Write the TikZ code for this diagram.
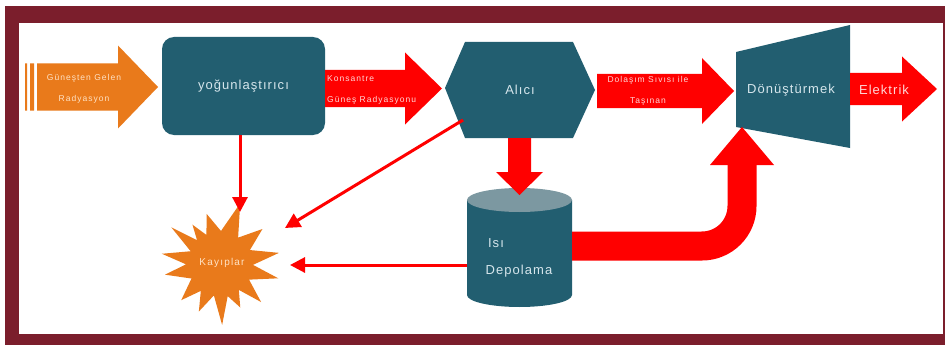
\documentclass[tikz,border=0pt]{standalone}
\usepackage{fontspec}
\setmainfont{Liberation Sans}
\newfontfamily\biglbl[LetterSpace=8]{Liberation Sans}
\newfontfamily\smllbl[LetterSpace=12]{Liberation Sans}
\usetikzlibrary{calc,arrows.meta}
\definecolor{framered}{HTML}{7B1E2C}
\definecolor{myteal}{HTML}{225E70}
\definecolor{mytealtop}{HTML}{7C98A1}
\definecolor{myorange}{HTML}{E97A1B}
\definecolor{myred}{HTML}{FF0000}
\definecolor{lighttxt}{HTML}{D6E6EC}
\definecolor{pinktxt}{HTML}{FFD6D6}
\definecolor{beigetxt}{HTML}{FFE2C4}
% colour, x start, x head base, x tip, y centre, shaft half, head half
\newcommand{\blockarr}[7]{%
  \fill[#1] (#2,#5-#6) -- (#3,#5-#6) -- (#3,#5-#7) -- (#4,#5) -- (#3,#5+#7) -- (#3,#5+#6) -- (#2,#5+#6) -- cycle;}
\begin{document}
\begin{tikzpicture}[x=1pt,y=-1pt,
  lbl/.style={font=\biglbl\fontsize{13}{15}\selectfont, text=lighttxt, inner sep=0pt},
  sml/.style={font=\smllbl\fontsize{8.5}{10}\selectfont, inner sep=0pt, align=center},
  thinarr/.style={draw=myred, line width=3pt, -{Triangle[length=15pt,width=15pt]}}]
\useasboundingbox (0,0) rectangle (945,345);
\fill[white] (0,0) rectangle (945,345);
\fill[framered] (5,6) rectangle (945,345);
\fill[white] (19,23) rectangle (943,334);

% incoming radiation
\blockarr{myorange}{37}{118}{158}{87}{23.5}{41.5}
\fill[myorange] (25,63.5) rectangle (27,110.5) (30,63.5) rectangle (34,110.5);
\node[sml, text=beigetxt] (sun) at (84,89) {Güneşten Gelen\\[11pt]Radyasyon};

% concentrator
\node[fill=myteal, rounded corners=12pt, minimum width=163pt, minimum height=98pt, lbl] (yog) at (243.5,86) {yoğunlaştırıcı};

% concentrated radiation
\blockarr{myred}{325}{405}{442}{88.5}{18.5}{36}
\node[sml, text=pinktxt, align=left, anchor=west] (kons) at (327,90) {Konsantre\\[11pt]Güneş Radyasyonu};

% receiver
\fill[myteal] (445,88) -- (465,42) -- (573,42) -- (595,90) -- (573,138) -- (465,138) -- cycle;
\node[lbl] (alici) at (520,90) {Alıcı};

% heat transport
\blockarr{myred}{597}{702}{734}{91}{17}{33}
\node[sml, text=pinktxt] (dol) at (648,91) {Dolaşım Sıvısı ile\\[11pt]Taşınan};

% converter
\fill[myteal] (736,52) -- (850,25) -- (850,148) -- (736,127) -- cycle;
\node[lbl] (donus) at (791,90) {Dönüştürmek};

% electricity
\blockarr{myred}{850}{902}{937}{89}{16}{32.5}
\node[lbl, text=pinktxt] (elek) at (884,90) {Elektrik};

% heat storage
\fill[myteal] (467,200) -- (467,295) arc[start angle=180, end angle=0, x radius=52.5, y radius=12] -- (572,200) -- cycle;
\fill[mytealtop] (519.5,200) ellipse [x radius=52.5, y radius=12];
\node[lbl] (isi) at (496,243) {Isı};
\node[lbl] (depo) at (519,271) {Depolama};

% receiver -> storage
\fill[myred] (508,138) -- (531,138) -- (531,172) -- (543,172) -- (519.5,195) -- (496,172) -- (508,172) -- cycle;

% storage -> converter
\draw[myred, line width=29pt, rounded corners=40pt] (572,246) -- (742,246) -- (742,163);
\fill[myred] (710,165) -- (774,165) -- (742,127) -- cycle;

% losses
\coordinate (C) at (220,264);
\fill[myorange] ($(C)+(1.5:33)$)
  \foreach \a/\r in {13.8/60, 28.3/33, 42.8/56, 54/32, 65/48, 76.5/33, 88/61, 101/32,
    114/52, 125.5/33, 137/53, 153/32, 169/56, 179.5/34, 190/59, 203.5/32, 217/61,
    226/33, 235/48, 245/32, 255/52, 271.7/33, 288.4/64, 304.5/32, 320.5/55, 335/33, 349.3/60}
  { -- ($(C)+(\a:\r)$) } -- cycle;
\node[font=\smllbl\fontsize{10}{12}\selectfont, text=beigetxt, inner sep=0pt] (kay) at (222,263) {Kayıplar};

% loss arrows
\coordinate (yogB) at (240,135);
\coordinate (kayT) at (240,212);
\draw[thinarr] (yogB) -- (kayT);
\coordinate (aliciSW) at (463,120);
\coordinate (kayNE) at (285,228);
\draw[thinarr] (aliciSW) -- (kayNE);
\coordinate (depoW) at (467,265);
\coordinate (kayE) at (290,265);
\draw[thinarr] (depoW) -- (kayE);
\end{tikzpicture}
\end{document}
